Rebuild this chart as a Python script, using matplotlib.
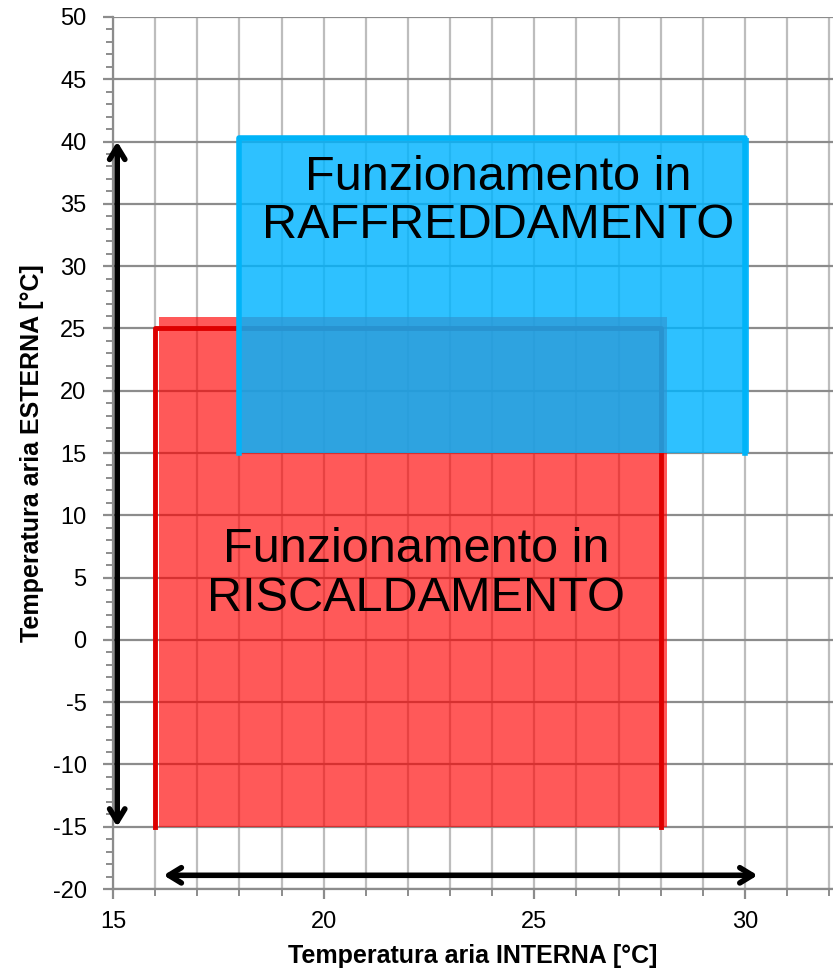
import matplotlib.pyplot as plt
from matplotlib.patches import Rectangle
from matplotlib.ticker import MultipleLocator

plt.rcParams['font.family'] = ['Liberation Sans', 'DejaVu Sans']
plt.rcParams['axes.unicode_minus'] = False

# Operating envelopes (x = internal air temperature, y = external air temperature)
heat_x = [16, 28]
heat_y = [-15, 25]
heat_fill_x = [16.1, 28.15]
heat_fill_y = [-15, 25.9]

cool_x = [18, 30]
cool_y = [15, 40.3]
cool_fill_x = [18, 30.1]
cool_fill_y = [15, 40.3]

# Ranges shown by the double arrows
ext_range = [-15, 40]
int_range = [16.2, 30.3]

heat_label = "Funzionamento in\nRISCALDAMENTO"
cool_label = "Funzionamento in\nRAFFREDDAMENTO"

fig = plt.figure(figsize=(8.33, 9.77), dpi=100)
ax = fig.add_axes([113 / 833, 88 / 977, 720 / 833, 872 / 977])

ax.set_xlim(15, 15 + 720 / 42.13)
ax.set_ylim(-20, 50)
ax.xaxis.set_major_locator(MultipleLocator(5))
ax.xaxis.set_minor_locator(MultipleLocator(1))
ax.yaxis.set_major_locator(MultipleLocator(5))
ax.yaxis.set_minor_locator(MultipleLocator(1))

ax.grid(which='major', axis='y', color='#8c8c8c', lw=1.6)
ax.grid(which='both', axis='x', color='#bdbdbd', lw=1.6)
ax.set_axisbelow(True)

for s in ['top', 'right']:
    ax.spines[s].set_visible(False)
for s in ['left', 'bottom']:
    ax.spines[s].set_color('#8c8c8c')
    ax.spines[s].set_linewidth(1.6)

ax.tick_params(which='major', direction='out', length=7, width=1.6, color='#8c8c8c',
               labelsize=17, pad=12)
ax.tick_params(axis='x', which='major', pad=9)
ax.tick_params(which='minor', direction='out', length=5, width=1.4, color='#8c8c8c')

# heating area
ax.add_patch(Rectangle((heat_fill_x[0], heat_fill_y[0]), heat_fill_x[1] - heat_fill_x[0],
                       heat_fill_y[1] - heat_fill_y[0], facecolor='#ff0000', alpha=0.65,
                       edgecolor='none', zorder=2))
ax.plot([heat_x[0], heat_x[0], heat_x[1], heat_x[1]],
        [heat_y[0], heat_y[1], heat_y[1], heat_y[0]], color='#dd0000', lw=3.5, zorder=3)

# cooling area
ax.add_patch(Rectangle((cool_fill_x[0], cool_fill_y[0]), cool_fill_x[1] - cool_fill_x[0],
                       cool_fill_y[1] - cool_fill_y[0], facecolor='#00b4ff', alpha=0.82,
                       edgecolor='none', zorder=4))
ax.plot([cool_x[0], cool_x[0], cool_x[1], cool_x[1]],
        [cool_y[0], cool_y[1], cool_y[1], cool_y[0]], color='#00b4f8', lw=4, zorder=5)

ax.text(22.2, 5.3, heat_label, ha='center', va='center', fontsize=35,
        linespacing=1.1, zorder=6)
ax.text(24.15, 35.2, cool_label, ha='center', va='center', fontsize=35,
        linespacing=1.1, zorder=6)

# range arrows
arrow = dict(arrowstyle='<->,head_length=0.9,head_width=0.55', color='black', lw=4,
             shrinkA=0, shrinkB=0)
ax.annotate('', xy=(15.1, ext_range[1]), xytext=(15.1, ext_range[0]), arrowprops=arrow,
            zorder=7)
ax.annotate('', xy=(int_range[1], -18.9), xytext=(int_range[0], -18.9), arrowprops=arrow,
            zorder=7)

ax.set_xlabel('Temperatura aria INTERNA [°C]', fontsize=18, fontweight='bold', labelpad=8)
ax.set_ylabel('Temperatura aria ESTERNA [°C]', fontsize=18, fontweight='bold', labelpad=6)

fig.savefig('out.png', dpi=100)
